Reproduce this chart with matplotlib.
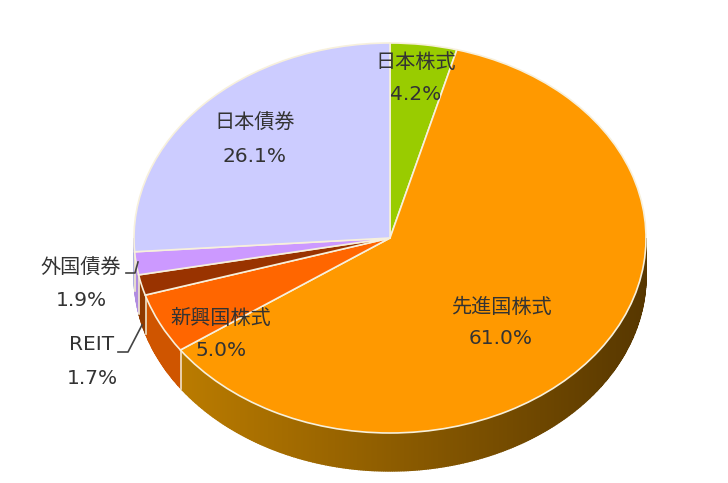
""" 3D looking pie chart of an asset allocation """

import numpy as np
import matplotlib
matplotlib.use("Agg")
import matplotlib.pyplot as plt
from matplotlib.colors import to_rgb

plt.rcParams['font.family'] = ['DejaVu Sans', 'Noto Sans CJK JP']

# clockwise from 12 o'clock
names = ["日本株式", "先進国株式", "新興国株式", "REIT", "外国債券", "日本債券"]
values = [4.2, 61.0, 5.0, 1.7, 1.9, 26.1]
colors = ["#99cc00", "#ff9900", "#ff6600", "#993300", "#cc99ff", "#ccccff"]
# side wall colour at the left end and at the right end of the pie
side_left = ["#99cc00", "#c48200", "#cf5500", "#8f3a00", "#b08ce0", "#b0b0e0"]
side_right = ["#99cc00", "#573700", "#cf5500", "#8f3a00", "#b08ce0", "#b0b0e0"]

# where each label goes, in pixels of the picture
label_px = [(416, 62), (501, 307), (221, 318), (92, 344), (81, 268), (255, 123)]
value_px = [(416, 95), (501, 338), (221, 351), (92, 378), (81, 301), (255, 156)]

WIDTH, HEIGHT = 728, 483
CX, CY = 390, 238     # pie centre
RX, RY = 256, 195     # radii of the top ellipse
DEPTH = 38            # height of the wall
squash = RY / RX


def main():
    fig = plt.figure(figsize=(WIDTH / 100, HEIGHT / 100), dpi=100)
    ax = fig.add_axes([0, 0, 1, 1])

    # data units: x in pixels round the centre, y stretched so the pie is a circle
    depth = DEPTH / squash

    # wall, cut in thin strips so that it can get darker to the right
    edges = 90 - np.cumsum([0] + values) * 3.6
    for i in range(len(values)):
        # only the front half of the wall can be seen (0 to -180 degrees)
        a0 = min(edges[i], 0)
        a1 = max(edges[i + 1], -180)
        if a0 <= a1:
            continue
        steps = np.linspace(a0, a1, max(int((a0 - a1) * 2), 2))
        for s0, s1 in zip(steps[:-1], steps[1:]):
            x0, x1 = RX * np.cos(np.radians([s0, s1]))
            y0, y1 = RX * np.sin(np.radians([s0, s1]))
            mix = ((x0 + x1) / 2 + RX) / (2 * RX)
            c = (1 - mix) * np.array(to_rgb(side_left[i])) + mix * np.array(to_rgb(side_right[i]))
            ax.fill([x0, x1, x1, x0], [y0, y1, y1 - depth, y0 - depth],
                    color=c, lw=1.0, zorder=1)

    # light lines on the wall where the slices change
    for a in edges[1:-1]:
        if -180 < a < 0:
            x, y = RX * np.cos(np.radians(a)), RX * np.sin(np.radians(a))
            ax.plot([x, x], [y, y - depth], color="#f0e6cc", lw=1.2, zorder=2)

    # top of the pie
    ax.pie(values, colors=colors, startangle=90, counterclock=False, radius=RX,
           frame=True, wedgeprops={"edgecolor": "#f7f0dc", "linewidth": 1.2, "zorder": 3})

    ax.set_aspect("auto")
    ax.set_xlim(-CX, WIDTH - CX)
    ax.set_ylim(-(HEIGHT - CY) / squash, CY / squash)
    ax.axis("off")

    # labels
    text_kw = {"ha": "center", "va": "center", "fontsize": 14.5, "color": "#333333", "zorder": 5}
    for name, value, lp, vp in zip(names, values, label_px, value_px):
        fig.text(lp[0] / WIDTH, 1 - lp[1] / HEIGHT, name, **text_kw)
        fig.text(vp[0] / WIDTH, 1 - vp[1] / HEIGHT, f"{value:.1f}%", **text_kw)

    # leader lines of the two thin slices
    for xs, ys in [([126, 135, 138], [273, 273, 262]), ([118, 128, 142], [352, 352, 325])]:
        fig.add_artist(plt.Line2D(np.array(xs) / WIDTH, 1 - np.array(ys) / HEIGHT,
                                  color="#444444", lw=1.2))

    fig.savefig("out.png", dpi=100)
    plt.close(fig)


if __name__ == "__main__":
    main()
